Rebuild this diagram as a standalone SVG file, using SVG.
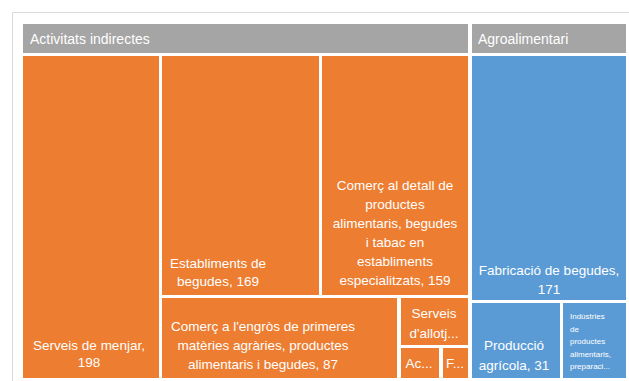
<svg xmlns="http://www.w3.org/2000/svg" width="629" height="381" viewBox="0 0 629 381">
<style>
.o{fill:#ED7D31}.b{fill:#5B9BD5}.h{fill:#A5A5A5}
text{font-family:"Liberation Sans",Arial,sans-serif;fill:#fff;font-size:13.5px}
.c{text-anchor:middle}
.s{font-size:8px}
.hd{font-size:14px}
</style>
<rect x="0" y="0" width="629" height="381" fill="#fff"/>
<path d="M12.5 381V12.5H629" fill="none" stroke="#DADADA" stroke-width="1"/>
<g id="hdr-activitats"><rect class="h" x="23" y="24" width="445" height="29"/><text class="hd" x="30" y="44">Activitats indirectes</text></g>
<g id="hdr-agro"><rect class="h" x="472" y="24" width="154" height="29"/><text class="hd" x="478" y="44">Agroalimentari</text></g>
<g id="serveis-menjar"><rect class="o" x="23" y="56" width="136" height="322"/><text class="c" x="89" y="350">Serveis de menjar,</text><text class="c" x="89" y="367">198</text></g>
<g id="establiments"><rect class="o" x="162" y="56" width="157" height="239"/><text class="c" x="218" y="268">Establiments de</text><text class="c" x="218" y="286">begudes, 169</text></g>
<g id="comerc-detall"><rect class="o" x="322" y="56" width="146" height="239"/>
<text class="c" x="395" y="190">Comerç al detall de</text><text class="c" x="395" y="209">productes</text><text class="c" x="395" y="228">alimentaris, begudes</text><text class="c" x="395" y="247">i tabac en</text><text class="c" x="395" y="266">establiments</text><text class="c" x="395" y="285">especialitzats, 159</text></g>
<g id="comerc-engros"><rect class="o" x="162" y="298" width="235" height="80"/><text class="c" x="263" y="331">Comerç a l'engròs de primeres</text><text class="c" x="263" y="350">matèries agràries, productes</text><text class="c" x="263" y="369">alimentaris i begudes, 87</text></g>
<g id="serveis-allotj"><rect class="o" x="401" y="298" width="67" height="47"/><text class="c" x="434" y="318">Serveis</text><text class="c" x="434" y="338">d'allotj...</text></g>
<g id="ac"><rect class="o" x="401" y="348" width="38" height="30"/><text class="c" x="419" y="368">Ac...</text></g>
<g id="f"><rect class="o" x="443" y="348" width="25" height="30"/><text class="c" x="455" y="368">F...</text></g>
<g id="fabricacio"><rect class="b" x="472" y="56" width="154" height="244"/><text class="c" x="549" y="275">Fabricació de begudes,</text><text class="c" x="549" y="294">171</text></g>
<g id="produccio"><rect class="b" x="472" y="303" width="88" height="75"/><text class="c" x="514" y="350">Producció</text><text class="c" x="514" y="370">agrícola, 31</text></g>
<g id="industries"><rect class="b" x="563" y="303" width="63" height="75"/><text class="s" x="570" y="319">Indústries</text><text class="s" x="570" y="332">de</text><text class="s" x="570" y="344">productes</text><text class="s" x="570" y="357">alimentaris,</text><text class="s" x="570" y="369">preparaci...</text></g>
<g id="connectors"></g>
</svg>
